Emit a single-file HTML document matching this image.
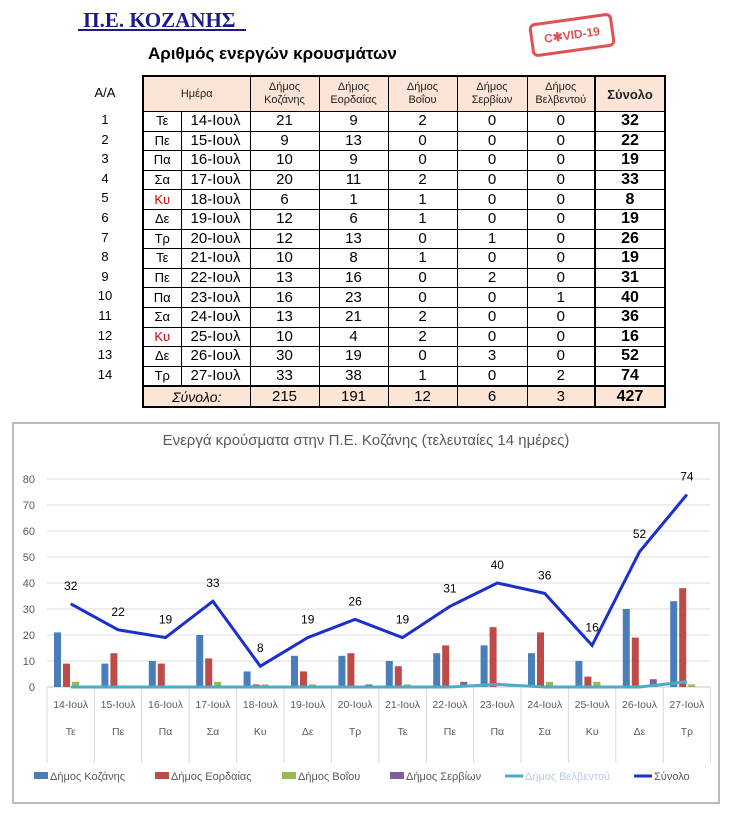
<!DOCTYPE html>
<html><head><meta charset="utf-8">
<style>
body{margin:0;width:740px;height:818px;background:#fff;position:relative;overflow:hidden;font-family:"Liberation Sans","DejaVu Sans",sans-serif}
#title{position:absolute;left:78px;top:8px;font:bold 21px "Liberation Serif",serif;color:#1a1a8c;text-decoration:underline;white-space:pre}
#sub{position:absolute;left:148px;top:44px;font:bold 17px "Liberation Sans",sans-serif;color:#000}
#stamp{position:absolute;left:530px;top:18px;width:78px;height:28px;border:3px solid #d33;border-radius:6px;color:#d33;font:bold 12px "Liberation Sans",sans-serif;text-align:center;line-height:28px;transform:rotate(-8deg);opacity:.85}
#aa{position:absolute;left:80px;top:75px;width:50px;font-size:13px;text-align:center}
#aa div{height:19.6px;line-height:19.6px}
table{position:absolute;left:142px;top:75px;border-collapse:collapse;border:2px solid #000;table-layout:fixed}
td{border:1px solid #000;text-align:center;font-size:15px;height:18.6px;padding:0;line-height:18px}
tr.h td{background:#fce4d6;font-size:11px;height:34px;line-height:13px;color:#222}
tr.t td{background:#fce4d6;border-top:2px solid #000}
td.s{font-weight:bold;border-left:2px solid #000;font-size:16px}
#chart{position:absolute;left:0;top:0}
</style></head><body>
<div id="title"> Π.Ε. ΚΟΖΑΝΗΣ  </div>
<div id="sub">Αριθμός ενεργών κρουσμάτων</div>
<div id="stamp">C✱VID-19</div>
<div id="aa"><div style="height:35px;line-height:35px">A/A</div></div>
<table id="tbl">
<colgroup><col style="width:38px"><col style="width:69px"><col style="width:69px"><col style="width:69px"><col style="width:69px"><col style="width:70px"><col style="width:68px"><col style="width:70px"></colgroup>
<tr class="h"><td colspan="2">Ημέρα</td><td>Δήμος<br>Κοζάνης</td><td>Δήμος<br>Εορδαίας</td><td>Δήμος<br>Βοΐου</td><td>Δήμος<br>Σερβίων</td><td>Δήμος<br>Βελβεντού</td><td class="s" style="font-size:13px">Σύνολο</td></tr>
</table>
<svg id="chart" width="740" height="818"></svg>
<script>
const dates=["14-Ιουλ","15-Ιουλ","16-Ιουλ","17-Ιουλ","18-Ιουλ","19-Ιουλ","20-Ιουλ","21-Ιουλ","22-Ιουλ","23-Ιουλ","24-Ιουλ","25-Ιουλ","26-Ιουλ","27-Ιουλ"];
const days=["Τε","Πε","Πα","Σα","Κυ","Δε","Τρ","Τε","Πε","Πα","Σα","Κυ","Δε","Τρ"];
const kozani=[21,9,10,20,6,12,12,10,13,16,13,10,30,33];
const eordaia=[9,13,9,11,1,6,13,8,16,23,21,4,19,38];
const voio=[2,0,0,2,1,1,0,1,0,0,2,2,0,1];
const servia=[0,0,0,0,0,0,1,0,2,0,0,0,3,0];
const velvento=[0,0,0,0,0,0,0,0,0,1,0,0,0,2];
const total=[32,22,19,33,8,19,26,19,31,40,36,16,52,74];
const yTicks=[0,10,20,30,40,50,60,70,80];
const sumRow=["215","191","12","6","3","427"];

// table
const tbl=document.getElementById('tbl'),aa=document.getElementById('aa');
dates.forEach((d,i)=>{
  const tr=document.createElement('tr');
  
  
  const vals=[kozani[i],eordaia[i],voio[i],servia[i],velvento[i]];
  tr.innerHTML='<td style="font-size:13px;'+(days[i]==='Κυ'?'color:#c00':'')+'">'+days[i]+'</td><td>'+d+'</td>'+vals.map(v=>'<td>'+v+'</td>').join('')+'<td class="s">'+total[i]+'</td>';
  tbl.appendChild(tr);
  const a=document.createElement('div');a.textContent=i+1;
  
  
  aa.appendChild(a);
});
const tt=document.createElement('tr');tt.className='t';


tt.innerHTML='<td colspan="2" style="font-style:italic;font-size:14px">Σύνολο:</td>'+sumRow.map((v,k)=>'<td'+(k==5?' class="s"':'')+'>'+v+'</td>').join('');
tbl.appendChild(tt);

// chart
const svg=document.getElementById('chart'),NS='http://www.w3.org/2000/svg';
function el(t,a,txt){const e=document.createElementNS(NS,t);for(const k in a)e.setAttribute(k,a[k]);if(txt!=null)e.textContent=txt;svg.appendChild(e);return e;}
const X0=47,CW=47.4,Y0=687,PY=2.6;
const xc=i=>X0+CW*(i+0.5), y=v=>Y0-v*PY;
let e=el('rect',{x:13,y:423,width:706,height:380,fill:'#fff',stroke:'#bbb','stroke-width':2});


e=el('text',{x:366,y:445,'text-anchor':'middle','font-size':15,fill:'#595959'},'Ενεργά κρούσματα στην Π.Ε. Κοζάνης (τελευταίες 14 ημέρες)');


yTicks.forEach(t=>{
  e=el('line',{x1:X0,x2:X0+CW*14,y1:y(t),y2:y(t),stroke:t?'#dcdcdc':'#c8c8c8'});
  
  
  e=el('text',{x:35,y:y(t)+4,'text-anchor':'end','font-size':11,fill:'#595959'},t);
  
  
});
for(let i=0;i<=14;i++){
  e=el('line',{x1:X0+CW*i,x2:X0+CW*i,y1:Y0,y2:763,stroke:'#d9d9d9'});
  
  
}
dates.forEach((d,i)=>{
  e=el('text',{x:xc(i),y:708,'text-anchor':'middle','font-size':10.5,fill:'#595959'},d);
  
  
  e=el('text',{x:xc(i),y:735,'text-anchor':'middle','font-size':10.5,fill:'#595959'},days[i]);
  
  
});
const series=[[kozani,'#4a7ebb','bar-kozani'],[eordaia,'#be4b48','bar-eordaia'],[voio,'#98b954','bar-voio'],[servia,'#7d60a0','bar-servia']];
series.forEach(([arr,col,nm],s)=>{
  arr.forEach((v,i)=>{
    e=el('rect',{x:X0+CW*i+7+s*9,y:y(v),width:7,height:v*PY,fill:col});
    
    
  });
});
e=el('polyline',{points:velvento.map((v,i)=>xc(i)+','+y(v)).join(' '),fill:'none',stroke:'#4bacc6','stroke-width':3});


e=el('polyline',{points:total.map((v,i)=>xc(i)+','+y(v)).join(' '),fill:'none',stroke:'#1a2fd0','stroke-width':3,'stroke-linejoin':'miter'});


total.forEach((v,i)=>{
  e=el('text',{x:xc(i),y:y(v)-14,'text-anchor':'middle','font-size':12,fill:'#000'},v);
  
  
});
const legend=[['Δήμος Κοζάνης','#4a7ebb','r',34],['Δήμος Εορδαίας','#be4b48','r',155],['Δήμος Βοΐου','#98b954','r',282],['Δήμος Σερβίων','#7d60a0','r',390],['Δήμος Βελβεντού','#4bacc6','l',505],['Σύνολο','#1a2fd0','l',634]];
legend.forEach(([t,c,k,lx])=>{
  if(k=='r')e=el('rect',{x:lx,y:772,width:14,height:7,fill:c});
  else e=el('line',{x1:lx,x2:lx+18,y1:776,y2:776,stroke:c,'stroke-width':3});
  
  
  e=el('text',{x:lx+(k=='r'?16:20),y:780,'font-size':11,fill:t=='Δήμος Βελβεντού'?'#b8cce4':'#595959'},t);
  
  
});
</script>
</body></html>
